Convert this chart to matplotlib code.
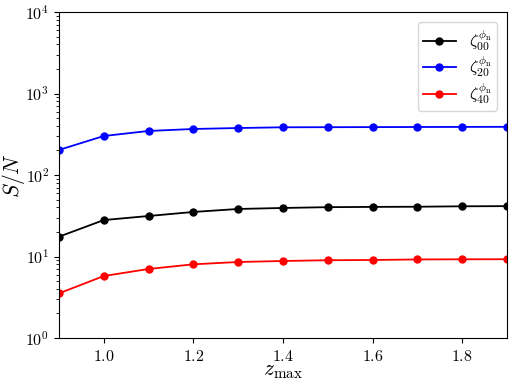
import math
import matplotlib
matplotlib.use("Agg")
import matplotlib.pyplot as plt
from matplotlib.ticker import FuncFormatter

plt.rcParams['mathtext.fontset'] = 'cm'
plt.rcParams['font.family'] = 'serif'
plt.rcParams['font.serif'] = ['DejaVu Serif']

z_max = [0.9, 1.0, 1.1, 1.2, 1.3, 1.4, 1.5, 1.6, 1.7, 1.8, 1.9]
sn_00 = [17.5, 28.0, 31.4, 35.2, 38.3, 39.4, 40.3, 40.6, 40.8, 41.3, 41.5]
sn_20 = [203, 301, 347, 367, 377, 385, 386, 387, 388, 389, 390]
sn_40 = [3.53, 5.76, 7.03, 8.02, 8.56, 8.81, 9.0, 9.06, 9.2, 9.24, 9.26]
labels = [r'$\zeta_{00}^{\phi_{\rm n}}$', r'$\zeta_{20}^{\phi_{\rm n}}$', r'$\zeta_{40}^{\phi_{\rm n}}$']

fig = plt.figure(figsize=(5.12, 3.88), dpi=100)
ax = fig.add_axes([59/512, 1 - 338/388, (507-59)/512, (338-12)/388])
for y, c, l in zip([sn_00, sn_20, sn_40], ['black', 'blue', 'red'], labels):
    ax.plot(z_max, y, color=c, marker='o', markersize=5, lw=1.3, label=l)
ax.set_yscale('log')
ax.set_ylim(1, 1e4)
ax.set_xlim(0.9, 1.9)
ax.set_xticks([1.0, 1.2, 1.4, 1.6, 1.8])
ax.xaxis.set_major_formatter(FuncFormatter(lambda v, p: r'$%.1f$' % v))
ax.yaxis.set_major_formatter(FuncFormatter(lambda v, p: r'$10^{%d}$' % round(math.log10(v))))
ax.tick_params(labelsize=11.5)
ax.set_xlabel(r'$z_{\rm max}$', fontsize=15.5)
ax.set_ylabel(r'$S/N$', fontsize=15.5)
ax.xaxis.set_label_coords(0.5, -0.064)
ax.yaxis.set_label_coords(-0.071, 0.5)
ax.legend(loc='upper right', fontsize=12, handlelength=2.0, borderpad=0.3,
          labelspacing=0.05, handletextpad=0.8, borderaxespad=0.6)
fig.savefig('out.png', dpi=100)
